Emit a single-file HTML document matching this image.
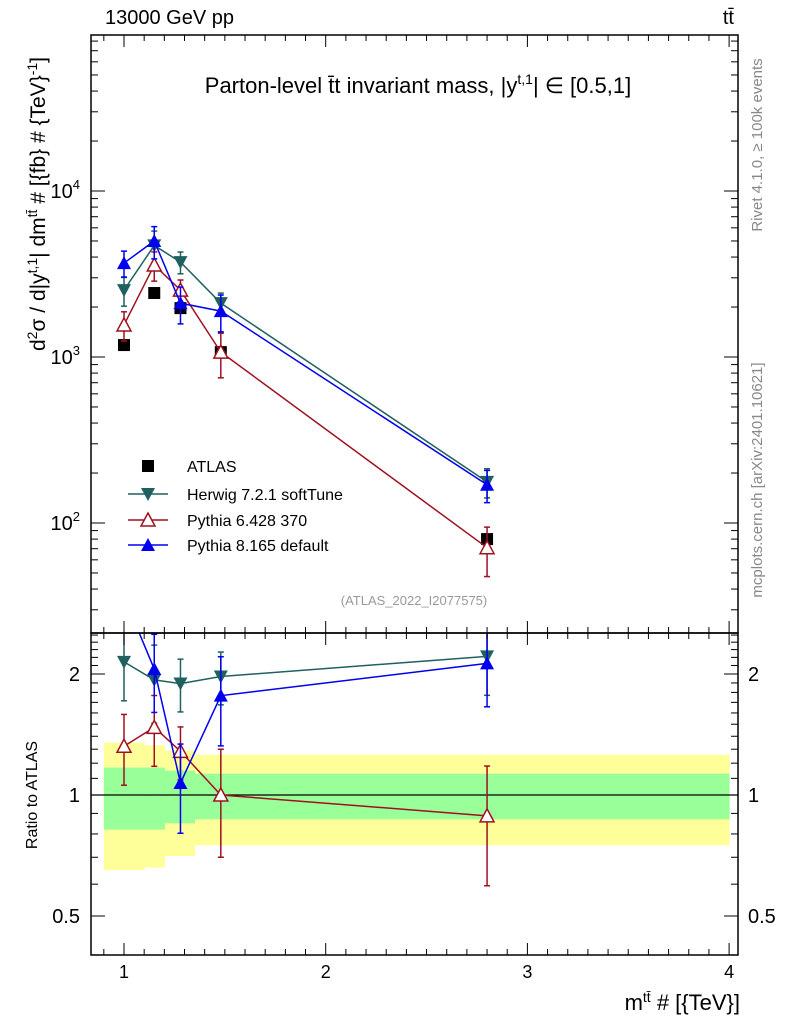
<!DOCTYPE html>
<html><head><meta charset="utf-8"><style>
body{margin:0;background:#fff;font-family:"Liberation Sans",sans-serif}
svg text{font-family:"Liberation Sans",sans-serif}
</style></head><body>
<svg id="chart" width="786" height="1024" xmlns="http://www.w3.org/2000/svg">
<g id="bands"></g>
<g id="marks"></g>
<g id="axes"></g>
<text x="105" y="24" font-size="20">13000 GeV pp</text>
<text x="734" y="24" font-size="20" text-anchor="end">tt̄</text>
<text x="418" y="93" font-size="22" text-anchor="middle">Parton-level t̄t invariant mass, |y<tspan dy="-9" font-size="14">t,1</tspan><tspan dy="9">| ∈ [0.5,1]</tspan></text>
<text x="414" y="605" font-size="13" fill="#999" text-anchor="middle">(ATLAS_2022_I2077575)</text>
<text transform="translate(45,204) rotate(-90)" font-size="21" text-anchor="middle">d<tspan dy="-8" font-size="14">2</tspan><tspan dy="8">σ / d|y</tspan><tspan dy="-8" font-size="14">t,1</tspan><tspan dy="8">| dm</tspan><tspan dy="-8" font-size="14">tt̄</tspan><tspan dy="8"> # [{fb} # {TeV}</tspan><tspan dy="-8" font-size="14">-1</tspan><tspan dy="8">]</tspan></text>
<text transform="translate(37,795) rotate(-90)" font-size="16" text-anchor="middle">Ratio to ATLAS</text>
<text x="740" y="1010" font-size="22" text-anchor="end">m<tspan dy="-8" font-size="14">tt̄</tspan><tspan dy="8"> # [{TeV}]</tspan></text>
<text transform="translate(762,145) rotate(-90)" font-size="15" fill="#888" text-anchor="middle">Rivet 4.1.0, ≥ 100k events</text>
<text transform="translate(762,480) rotate(-90)" font-size="15" fill="#888" text-anchor="middle">mcplots.cern.ch [arXiv:2401.10621]</text>
<g id="legend"></g>
</svg>
<script>
const xPts=[1.0,1.15,1.28,1.48,2.8];
const atlas=[1180,2430,1970,1070,80];
const herwig=[2530,4700,3730,2110,177];
const py6=[1560,3580,2530,1070,71];
const py8=[3680,5000,2110,1890,170];
const herwigErr=[0.2,0.22,0.15,0.15,0.2];
const py6Err=[0.2,0.2,0.15,0.3,0.33];
const py8Err=[0.18,0.22,0.25,0.25,0.22];
const binEdges=[0.9,1.1,1.2,1.35,4.0];
const yellowHi=[1.35,1.33,1.29,1.26];
const yellowLo=[0.65,0.66,0.705,0.75];
const greenHi=[1.17,1.17,1.15,1.13];
const greenLo=[0.82,0.82,0.85,0.87];
const xTicks=[1,2,3,4];
const yTicks=[100,1000,10000];
const yTickLabels=["10","10","10"];
const yTickExp=["2","3","4"];
const rTicks=[0.5,1,2];

const NS="http://www.w3.org/2000/svg";
const L=91,R=738,T=35,M=633,B=955;
const X=v=>124+(v-1)*201.7;
const Y=v=>191-(Math.log10(v)-4)*166;
const RY=v=>795-Math.log2(v)*121;
function el(tag,attrs,parent){const e=document.createElementNS(NS,tag);for(const k in attrs)e.setAttribute(k,attrs[k]);parent.appendChild(e);return e;}
const bands=document.getElementById('bands'),marks=document.getElementById('marks'),axes=document.getElementById('axes'),legend=document.getElementById('legend');
const clipD=el('defs',{},marks);
const cp=el('clipPath',{id:'cm'},clipD);el('rect',{x:L,y:T,width:R-L,height:M-T},cp);
const cr=el('clipPath',{id:'cr'},clipD);el('rect',{x:L,y:M,width:R-L,height:B-M},cr);
for(let i=0;i<4;i++){
  const y=el('rect',{x:X(binEdges[i]),y:RY(yellowHi[i]),width:X(binEdges[i+1])-X(binEdges[i])+0.5,height:RY(yellowLo[i])-RY(yellowHi[i]),fill:'#ffff99'},bands);
  
  
}
for(let i=0;i<4;i++){
  const g=el('rect',{x:X(binEdges[i]),y:RY(greenHi[i]),width:X(binEdges[i+1])-X(binEdges[i])+0.5,height:RY(greenLo[i])-RY(greenHi[i]),fill:'#99ff99'},bands);
  
  
}
el('line',{x1:L,x2:R,y1:RY(1),y2:RY(1),stroke:'#000','stroke-width':1.2},bands);
function marker(type,cx,cy,col,parent){
  let m;
  if(type==='sq')m=el('rect',{x:cx-6,y:cy-6,width:12,height:12,fill:'#000'},parent);
  else if(type==='dn')m=el('polygon',{points:`${cx-7},${cy-6} ${cx+7},${cy-6} ${cx},${cy+7}`,fill:col},parent);
  else if(type==='up')m=el('polygon',{points:`${cx-7},${cy+6} ${cx+7},${cy+6} ${cx},${cy-7}`,fill:col},parent);
  else m=el('polygon',{points:`${cx-7},${cy+6} ${cx+7},${cy+6} ${cx},${cy-7}`,fill:'#fff',stroke:col,'stroke-width':1.5},parent);
  return m;
}
const series=[
 {name:'herwig',vals:herwig,err:herwigErr,col:'#1f6060',type:'dn'},
 {name:'pythia6',vals:py6,err:py6Err,col:'#a01020',type:'open'},
 {name:'pythia8',vals:py8,err:py8Err,col:'#0000ee',type:'up'}];
const gm=el('g',{'clip-path':'url(#cm)'},marks),gr=el('g',{'clip-path':'url(#cr)'},marks);
atlas.forEach((v,i)=>{const m=marker('sq',X(xPts[i]),Y(v),'#000',gm);
 
 });
series.forEach(s=>{
  for(const g of [gm,gr]){
    const isR=g===gr;
    const pts=s.vals.map((v,i)=>X(xPts[i])+','+(isR?RY(v/atlas[i]):Y(v))).join(' ');
    const pl=el('polyline',{points:pts,fill:'none',stroke:s.col,'stroke-width':1.5},g);
    
    
    s.vals.forEach((v,i)=>{
      const base=isR?v/atlas[i]:v;const fn=isR?RY:Y;
      const x=X(xPts[i]),y1=fn(base*(1+s.err[i])),y2=fn(base*(1-s.err[i]));
      el('line',{x1:x,x2:x,y1:y1,y2:y2,stroke:s.col,'stroke-width':1.5},g);
      el('line',{x1:x-3,x2:x+3,y1:y1,y2:y1,stroke:s.col,'stroke-width':1.5},g);
      el('line',{x1:x-3,x2:x+3,y1:y2,y2:y2,stroke:s.col,'stroke-width':1.5},g);
      const m=marker(s.type,x,fn(base),s.col,g);
      
      
    });
  }
});
el('rect',{x:L,y:T,width:R-L,height:M-T,fill:'none',stroke:'#000','stroke-width':1.5},axes);
el('rect',{x:L,y:M,width:R-L,height:B-M,fill:'none',stroke:'#000','stroke-width':1.5},axes);
for(let v=0.9;v<=4.04;v+=0.1){const x=X(v);const maj=Math.abs(v-Math.round(v))<0.01;const len=maj?12:6;
 for(const [yt,yb] of [[T,M],[M,B]]){el('line',{x1:x,x2:x,y1:yb,y2:yb-len,stroke:'#000'},axes);el('line',{x1:x,x2:x,y1:yt,y2:yt+len,stroke:'#000'},axes);}}
xTicks.forEach(v=>{const t=el('text',{x:X(v),y:978,'font-size':18,'text-anchor':'middle'},axes);t.textContent=v;
 
 });
for(let d=1;d<=4;d++)for(let k=1;k<10;k++){const v=k*Math.pow(10,d);const y=Y(v);if(y<T||y>M)continue;const len=k===1?14:7;
 el('line',{x1:L,x2:L+len,y1:y,y2:y,stroke:'#000'},axes);el('line',{x1:R,x2:R-len,y1:y,y2:y,stroke:'#000'},axes);}
yTicks.forEach((v,i)=>{const t=el('text',{x:80,y:Y(v)+7,'font-size':20,'text-anchor':'end'},axes);
 t.innerHTML=yTickLabels[i]+'<tspan dy="-9" font-size="13">'+yTickExp[i]+'</tspan>';
 
 });
for(let v=0.4;v<=2.6;v+=0.1){const y=RY(v);if(y<M||y>B)continue;const maj=rTicks.some(r=>Math.abs(r-v)<0.01);const len=maj?14:7;
 el('line',{x1:L,x2:L+len,y1:y,y2:y,stroke:'#000'},axes);el('line',{x1:R,x2:R-len,y1:y,y2:y,stroke:'#000'},axes);}
rTicks.forEach(v=>{for(const [x,a] of [[80,'end'],[748,'start']]){const t=el('text',{x:x,y:RY(v)+7,'font-size':20,'text-anchor':a},axes);t.textContent=v;
 
 }});
const leg=[['ATLAS','sq','#000'],['Herwig 7.2.1 softTune','dn','#1f6060'],['Pythia 6.428 370','open','#a01020'],['Pythia 8.165 default','up','#0000ee']];
const legY=[466,494,520,545];
leg.forEach((l,i)=>{const y=legY[i];
 if(i>0)el('line',{x1:128,x2:168,y1:y,y2:y,stroke:l[2],'stroke-width':1.5},legend);
 const m=marker(l[1],148,y,l[2],legend);
 
 
 const t=el('text',{x:187,y:y+6,'font-size':16},legend);t.textContent=l[0];
 
 });
</script>
</body></html>
